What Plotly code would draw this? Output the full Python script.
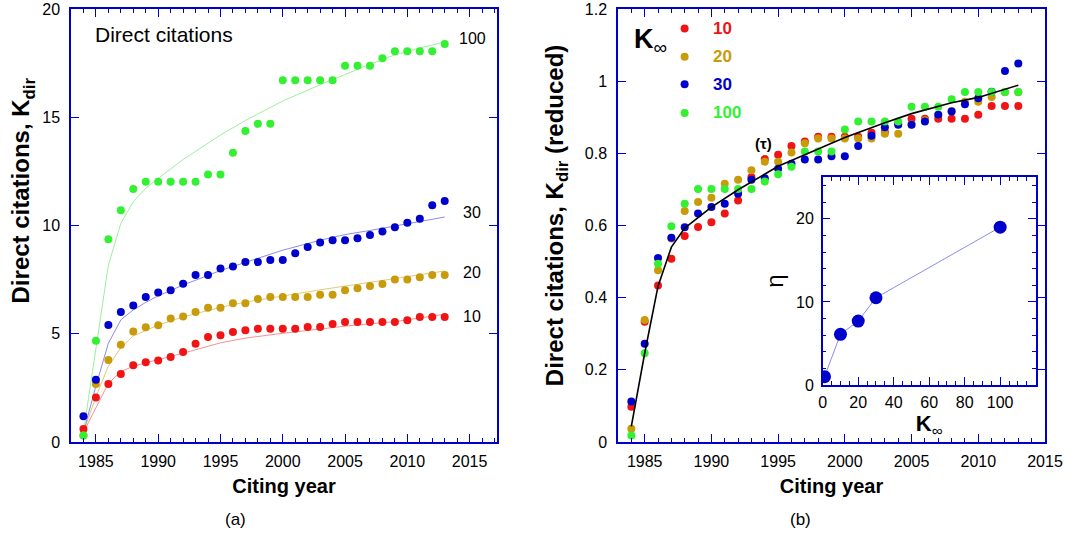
import plotly.graph_objects as go

# ---------------- data ----------------
years = [1984, 1985, 1986, 1987, 1988, 1989, 1990, 1991, 1992, 1993,
         1994, 1995, 1996, 1997, 1998, 1999, 2000, 2001, 2002, 2003,
         2004, 2005, 2006, 2007, 2008, 2009, 2010, 2011, 2012, 2013]

# panel (a): direct citations
k10 = [0.60, 2.06, 2.68, 3.14, 3.54, 3.68, 3.77, 3.93, 4.16, 4.54,
       4.85, 4.93, 5.08, 5.16, 5.23, 5.23, 5.23, 5.23, 5.31, 5.31,
       5.45, 5.54, 5.54, 5.54, 5.54, 5.54, 5.62, 5.77, 5.77, 5.77]
k20 = [0.30, 2.68, 3.79, 4.49, 5.10, 5.30, 5.39, 5.70, 5.80, 6.00,
       6.20, 6.20, 6.41, 6.41, 6.61, 6.70, 6.70, 6.70, 6.70, 6.80,
       6.80, 7.01, 7.10, 7.21, 7.30, 7.51, 7.51, 7.61, 7.71, 7.71]
k30 = [1.19, 2.88, 5.40, 6.00, 6.30, 6.70, 6.90, 7.01, 7.31, 7.71,
       7.71, 8.01, 8.11, 8.31, 8.31, 8.41, 8.41, 8.72, 9.01, 9.21,
       9.32, 9.32, 9.41, 9.56, 9.72, 9.92, 10.13, 10.31, 10.93, 11.13]
k100 = [0.30, 4.68, 9.36, 10.70, 11.69, 12.02, 12.02, 12.02, 12.02, 12.02,
        12.36, 12.36, 13.36, 14.36, 14.70, 14.70, 16.71, 16.71, 16.71, 16.71,
        16.71, 17.38, 17.38, 17.38, 17.72, 18.05, 18.05, 18.05, 18.05, 18.38]

fit_years = [1984, 1985, 1986, 1987, 1988, 1989, 1990, 1992, 1995, 1997,
             2000, 2003, 2005, 2007, 2009, 2011, 2013]
fit10 = [0.45, 1.60, 2.71, 3.25, 3.50, 3.66, 3.80, 4.10, 4.58, 4.80,
         5.02, 5.23, 5.35, 5.46, 5.56, 5.73, 5.90]
fit20 = [0.45, 2.09, 3.51, 4.35, 4.90, 5.15, 5.40, 5.78, 6.22, 6.46,
         6.76, 7.03, 7.20, 7.38, 7.56, 7.73, 7.90]
fit30 = [0.45, 2.59, 4.56, 5.64, 6.10, 6.45, 6.75, 7.25, 7.92, 8.30,
         8.86, 9.32, 9.58, 9.77, 9.97, 10.18, 10.39]
fit100 = [0.45, 4.25, 8.17, 10.10, 11.10, 11.72, 12.18, 13.05, 14.18, 14.85,
          15.75, 16.50, 16.97, 17.45, 17.88, 18.20, 18.48]

# panel (b): reduced direct citations
r10 = [0.098, 0.333, 0.434, 0.508, 0.571, 0.596, 0.609, 0.633, 0.669, 0.734,
       0.784, 0.796, 0.820, 0.833, 0.846, 0.846, 0.846, 0.846, 0.857, 0.859,
       0.882, 0.896, 0.896, 0.896, 0.896, 0.896, 0.907, 0.931, 0.931, 0.931]
r20 = [0.037, 0.338, 0.476, 0.564, 0.640, 0.665, 0.677, 0.716, 0.727, 0.753,
       0.777, 0.777, 0.802, 0.828, 0.841, 0.841, 0.841, 0.841, 0.841, 0.854,
       0.854, 0.880, 0.892, 0.906, 0.917, 0.943, 0.943, 0.956, 0.969, 0.969]
r30 = [0.112, 0.272, 0.510, 0.566, 0.595, 0.633, 0.651, 0.660, 0.688, 0.727,
       0.731, 0.757, 0.771, 0.783, 0.783, 0.792, 0.792, 0.820, 0.849, 0.872,
       0.879, 0.879, 0.888, 0.907, 0.916, 0.936, 0.953, 0.971, 1.028, 1.049]
r100 = [0.018, 0.246, 0.494, 0.598, 0.660, 0.701, 0.701, 0.701, 0.701, 0.701,
        0.722, 0.742, 0.763, 0.805, 0.805, 0.805, 0.866, 0.888, 0.888, 0.888,
        0.888, 0.929, 0.929, 0.929, 0.950, 0.970, 0.970, 0.970, 0.970, 0.970]

tau_years = [1984, 1985, 1986, 1987, 1988, 1990, 1992, 1995, 2000, 2003,
             2005, 2008, 2010, 2013]
tau_vals = [0.043, 0.246, 0.432, 0.540, 0.593, 0.651, 0.699, 0.764, 0.844, 0.885,
            0.910, 0.940, 0.955, 0.989]

# inset
kinf = [1, 10, 20, 30, 100]
eta = [1.0, 6.1, 7.7, 10.5, 19.0]

series_labels = ["10", "20", "30", "100"]

# ---------------- styles ----------------
FONT = "Arial, Liberation Sans, sans-serif"
AX = "#0000cc"
RED, TAN, BLUE, GREEN = "#f01414", "#c89b0a", "#0000cc", "#33f033"
LRED, LTAN, LBLUE, LGREEN = "#f89090", "#e6c878", "#8c8cf0", "#9cf09c"
cols = [RED, TAN, BLUE, GREEN]
lcols = [LRED, LTAN, LBLUE, LGREEN]

fig = go.Figure()

# panel (a)
for fy, lc in zip([fit10, fit20, fit30, fit100], lcols):
    fig.add_trace(go.Scatter(x=fit_years, y=fy, mode="lines",
                             line=dict(color=lc, width=1), xaxis="x", yaxis="y",
                             showlegend=False, hoverinfo="skip"))
for ys, c in zip([k10, k20, k30, k100], cols):
    fig.add_trace(go.Scatter(x=years, y=ys, mode="markers",
                             marker=dict(color=c, size=8), xaxis="x", yaxis="y",
                             showlegend=False))

# panel (b)
for ys, c in zip([r10, r20, r30, r100], cols):
    fig.add_trace(go.Scatter(x=years, y=ys, mode="markers",
                             marker=dict(color=c, size=8), xaxis="x2", yaxis="y2",
                             showlegend=False))
fig.add_trace(go.Scatter(x=tau_years, y=tau_vals, mode="lines",
                         line=dict(color="black", width=1.6), xaxis="x2", yaxis="y2",
                         showlegend=False))

# inset
fig.add_trace(go.Scatter(x=kinf, y=eta, mode="lines+markers",
                         line=dict(color=LBLUE, width=1),
                         marker=dict(color=BLUE, size=13), xaxis="x3", yaxis="y3",
                         showlegend=False))


def axis(**kw):
    d = dict(showline=True, linecolor=AX, linewidth=1.5, mirror="allticks",
             ticks="inside", ticklen=8, tickwidth=1.2, tickcolor=AX,
             showgrid=False, zeroline=False, automargin=False,
             ticklabeloverflow="allow",
             tickfont=dict(family=FONT, size=16, color="black"))
    d.update(kw)
    return d


minor_x = dict(dtick=1, ticklen=4, ticks="inside", tickcolor=AX, tickwidth=1, showgrid=False)

fig.update_layout(
    template="none",
    width=1076, height=541,
    margin=dict(l=71, r=31, t=9, b=99),
    paper_bgcolor="white", plot_bgcolor="white",
    font=dict(family=FONT, color="black"),
    xaxis=axis(domain=[0, 0.4374], range=[1983, 2017.2], dtick=5, tick0=1985,
               minor=minor_x, anchor="y", ticklabelstandoff=4,
               title=dict(text="<b>Citing year</b>", font=dict(size=20), standoff=10)),
    yaxis=axis(domain=[0, 1], range=[0, 20], dtick=5, anchor="x", ticklabelstandoff=6),
    xaxis2=axis(domain=[0.5616, 1], range=[1983, 2015], dtick=5, tick0=1985,
                minor=minor_x, anchor="y2", ticklabelstandoff=4,
                title=dict(text="<b>Citing year</b>", font=dict(size=20), standoff=10)),
    yaxis2=axis(domain=[0, 1], range=[0, 1.2], dtick=0.2, anchor="x2",
                ticklabelstandoff=6),
    xaxis3=axis(domain=[0.7718, 0.9904], range=[0, 120], dtick=20, anchor="y3",
                tickvals=[0, 20, 40, 60, 80, 100], ticklabelstandoff=2,
                minor=dict(dtick=5, ticklen=4, ticks="inside", tickcolor=AX, tickwidth=1),
                title=dict(text="<b>K</b><sub>∞</sub>", font=dict(size=22), standoff=2)),
    yaxis3=axis(domain=[0.1316, 0.6113], range=[0, 25], tickvals=[0, 10, 20],
                anchor="x3", ticklabelstandoff=4,
                minor=dict(dtick=2, ticklen=4, ticks="inside", tickcolor=AX, tickwidth=1),
                title=dict(text="η", font=dict(size=24), standoff=6)),
)

ann = []
# y-axis titles (placed as rotated annotations, off-centre like the original)
ann.append(dict(xref="paper", yref="paper", x=-0.0488, y=0.582, textangle=-90,
                text="<b>Direct citations, K<sub>dir</sub></b>", showarrow=False,
                xanchor="center", yanchor="middle", font=dict(size=24, color="black")))
ann.append(dict(xref="paper", yref="paper", x=0.498, y=0.524, textangle=-90,
                text="<b>Direct citations, K<sub>dir</sub> (reduced)</b>", showarrow=False,
                xanchor="center", yanchor="middle", font=dict(size=24, color="black")))

# panel (a) texts
ann.append(dict(xref="x", yref="y", x=1984.75, y=18.8, text="Direct citations",
                showarrow=False, xanchor="left", yanchor="middle",
                font=dict(size=21, color="black")))
for lab, yv in zip(series_labels, [5.82, 7.85, 10.58, 18.66]):
    ann.append(dict(xref="x", yref="y", x=2015.2, y=yv, text=lab, showarrow=False,
                    xanchor="center", yanchor="middle", font=dict(size=16, color="black")))

# panel (b) legend
ann.append(dict(xref="paper", yref="paper", x=0.576, y=0.925,
                text="<b>K</b><sub>∞</sub>", showarrow=False, xanchor="left",
                yanchor="middle", font=dict(size=27, color="black")))
shapes = []
leg_y = [0.955, 0.890, 0.826, 0.760]
for lab, c, yy in zip(series_labels, cols, leg_y):
    shapes.append(dict(type="circle", xref="paper", yref="paper",
                       xsizemode="pixel", ysizemode="pixel",
                       xanchor=0.630, yanchor=yy, x0=-4, x1=4, y0=-4, y1=4,
                       fillcolor=c, line=dict(width=0)))
    ann.append(dict(xref="paper", yref="paper", x=0.657, y=yy, text="<b>%s</b>" % lab,
                    showarrow=False, xanchor="left", yanchor="middle",
                    font=dict(size=17, color=c)))
ann.append(dict(xref="paper", yref="paper", x=0.7105, y=0.6905, text="<b>(τ)</b>",
                showarrow=False, xanchor="center", yanchor="middle",
                font=dict(size=15, color="black")))

# panel captions
ann.append(dict(xref="paper", yref="paper", x=0.1694, y=-0.180, text="(a)",
                showarrow=False, xanchor="center", yanchor="middle",
                font=dict(size=17, color="black")))
ann.append(dict(xref="paper", yref="paper", x=0.7485, y=-0.180, text="(b)",
                showarrow=False, xanchor="center", yanchor="middle",
                font=dict(size=17, color="black")))

fig.update_layout(annotations=ann, shapes=shapes)

# remove the default page margin so the figure sits at the window's top-left corner
fig.write_html("out.html", config={"displayModeBar": False},
               post_script="document.body.style.margin='0px';")
